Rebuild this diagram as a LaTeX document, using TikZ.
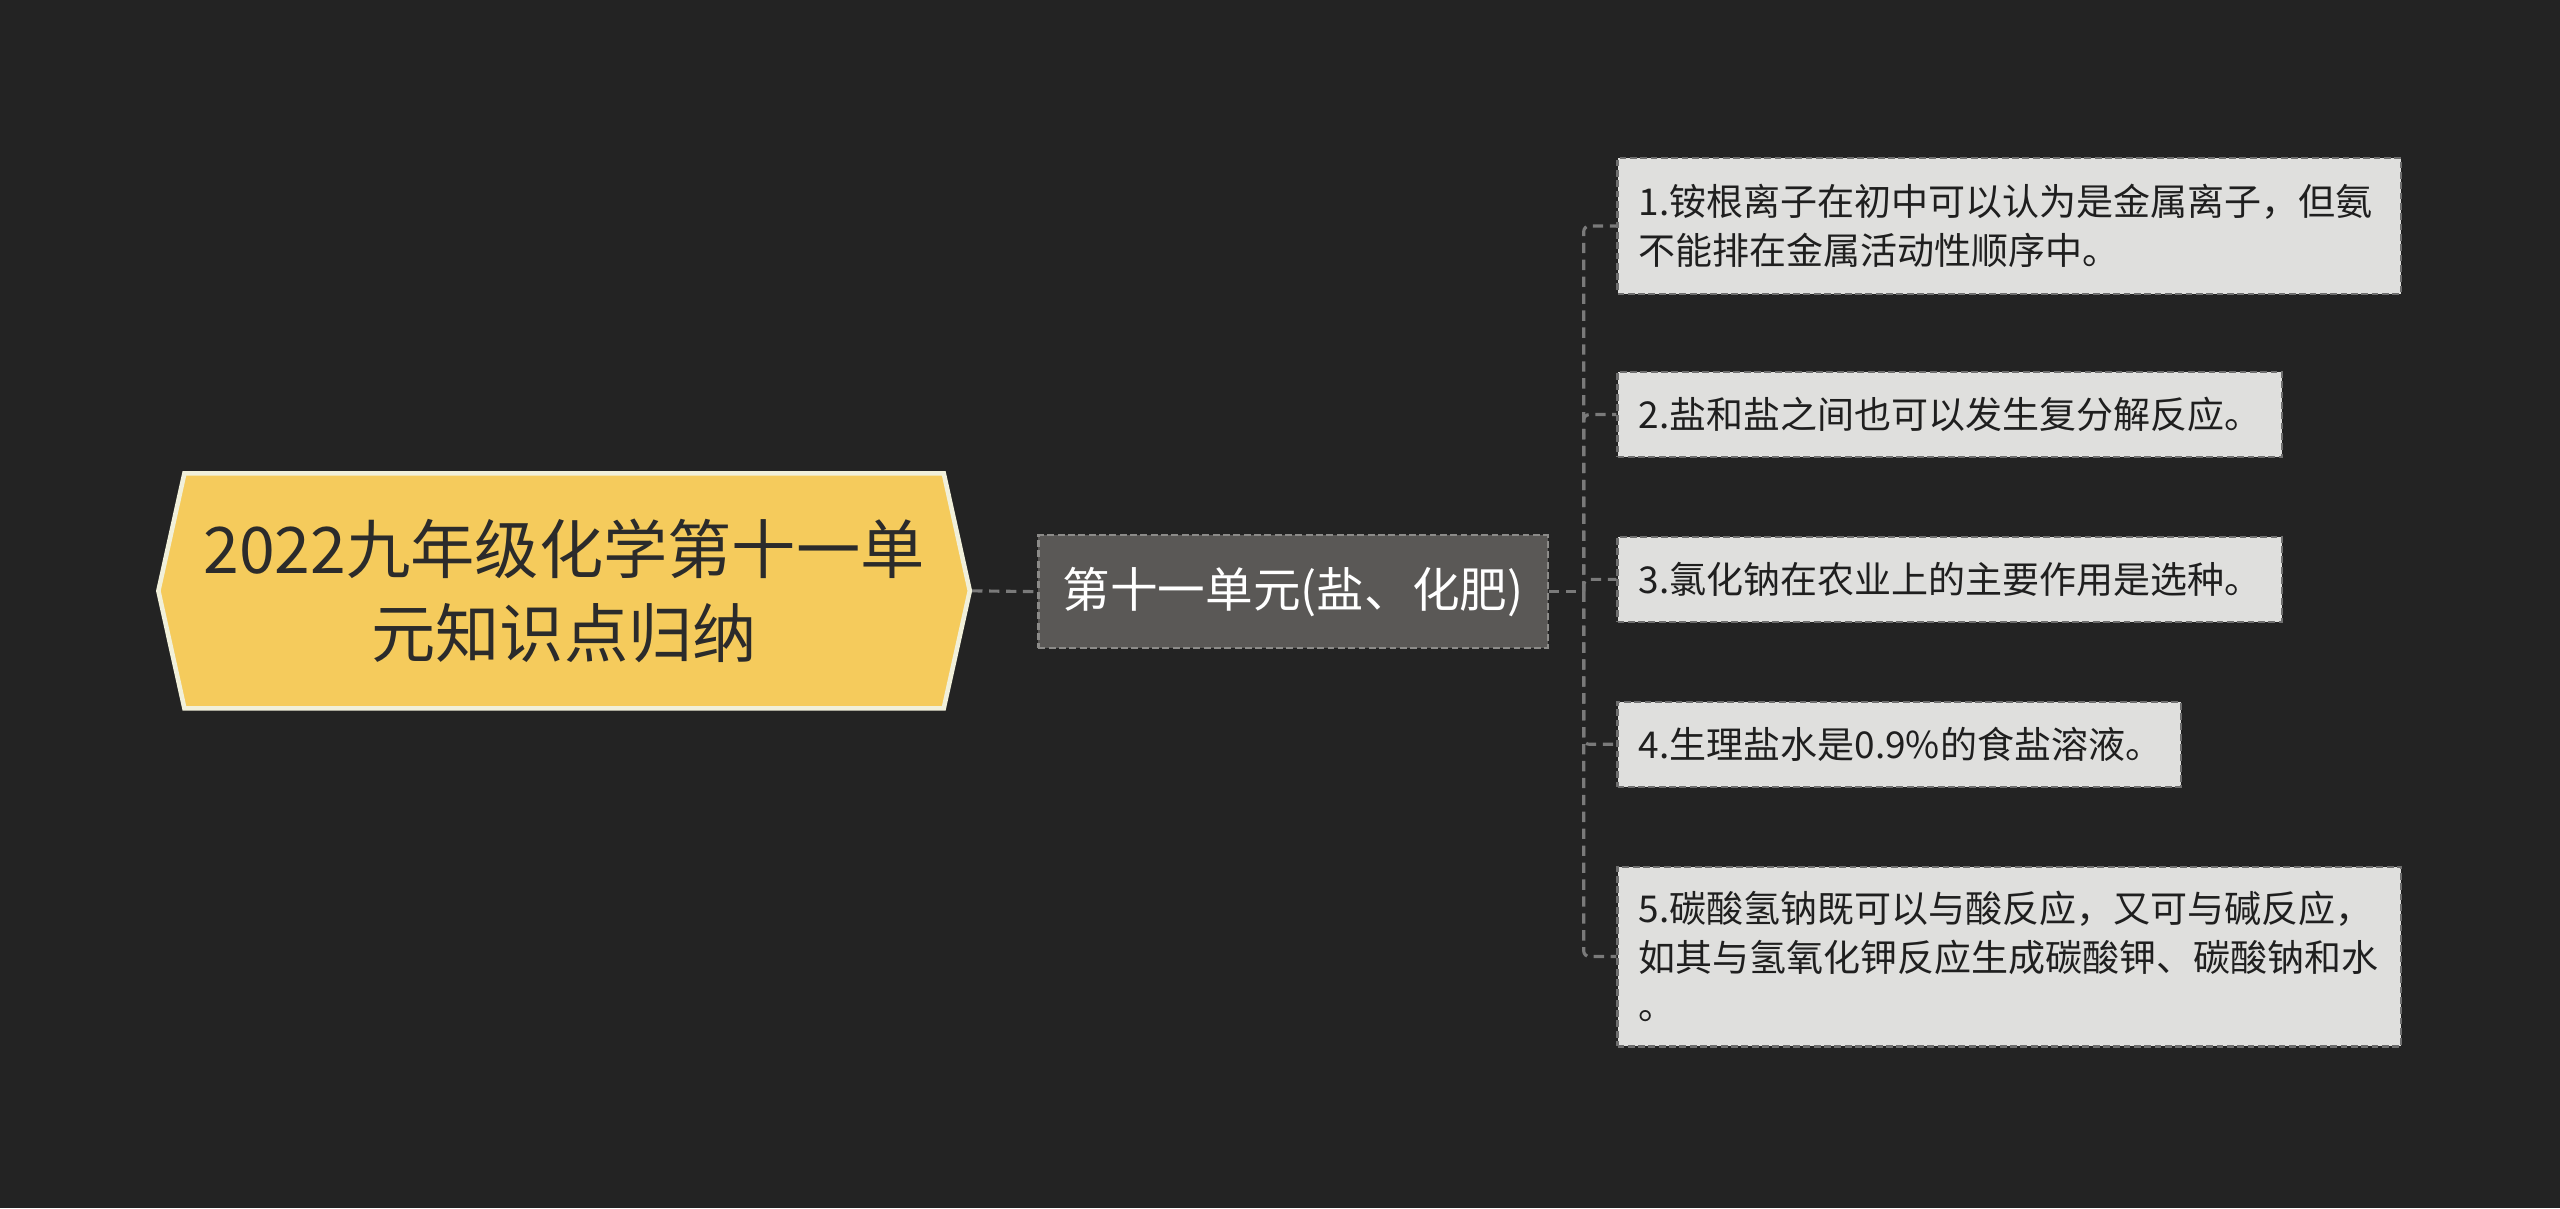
\documentclass[tikz,border=0pt]{standalone}
\usepackage{fontspec}
\newfontfamily\cjk{Noto Sans CJK SC}
\usetikzlibrary{shapes.symbols}
\definecolor{bgdark}{HTML}{232323}
\definecolor{rootyellow}{HTML}{F5CB5C}
\definecolor{rootrim}{HTML}{F1F0DA}
\definecolor{inkdark}{HTML}{2B2B2B}
\definecolor{subgray}{HTML}{5A5856}
\definecolor{subrim}{HTML}{8C8B89}
\definecolor{leafgray}{HTML}{DFDFDD}
\definecolor{leafrim}{HTML}{6E6E6E}
\definecolor{linkgray}{HTML}{7A7A7A}

\begin{document}
\begin{tikzpicture}[
  every node/.style={font=\cjk},
  roothex/.style={shape=signal,signal to=west and east,signal pointer angle=155,
    fill=rootyellow,draw=rootrim,line width=1.6pt,minimum width=9.94cm,
    minimum height=2.88cm,inner sep=0pt,align=center,text=inkdark,
    font=\cjk\fontsize{22.4}{29}\selectfont},
  subbox/.style={fill=subgray,draw=subrim,line width=0.8pt,
    dash pattern=on 2.4pt off 1.2pt,minimum width=6.24cm,minimum height=1.38cm,
    inner sep=0pt,text=white,font=\cjk\fontsize{16.6}{20}\selectfont},
  leaf/.style={fill=leafgray,draw=leafrim,line width=0.8pt,
    dash pattern=on 2.4pt off 1.2pt,anchor=west,inner xsep=0.26cm,inner ysep=0pt,
    align=left,text=black!88,font=\cjk\fontsize{12.9}{17}\selectfont},
  link/.style={linkgray,line width=1.1pt,dash pattern=on 3.6pt off 2.3pt}
]

% ---- canvas ----
\fill[bgdark] (0,0) rectangle (31.36,14.798);

% ---- root ----
\node[roothex] (root) at (6.91,7.56)
  {2022九年级化学第十一单\\元知识点归纳};

% ---- unit ----
\node[subbox] (sub) at (15.84,7.55) {第十一单元(盐、化肥)};
\coordinate (hub) at (19.4,7.55);

% ---- points ----
\node[leaf,text width=9.08cm,minimum height=1.66cm] (l1) at (19.8,12.03)
  {1.铵根离子在初中可以认为是金属离子，但氨\\不能排在金属活动性顺序中。};
\node[leaf,text width=7.62cm,minimum height=1.04cm] (l2) at (19.8,9.72)
  {2.盐和盐之间也可以发生复分解反应。};
\node[leaf,text width=7.62cm,minimum height=1.04cm] (l3) at (19.8,7.70)
  {3.氯化钠在农业上的主要作用是选种。};
\node[leaf,text width=6.38cm,minimum height=1.04cm] (l4) at (19.8,5.68)
  {4.生理盐水是0.9\%的食盐溶液。};
\node[leaf,text width=9.08cm,minimum height=2.2cm] (l5) at (19.8,3.08)
  {5.碳酸氢钠既可以与酸反应，又可与碱反应，\\如其与氢氧化钾反应生成碳酸钾、碳酸钠和水\\。};

% ---- links ----
\draw[link] (root.east) -- (sub.west);
\draw[link] (sub.east) -- (hub);
\foreach \n in {l1,l2,l3,l4,l5}{
  \draw[link,rounded corners=2pt] (hub) |- (\n.west);
}

\end{tikzpicture}
\end{document}
